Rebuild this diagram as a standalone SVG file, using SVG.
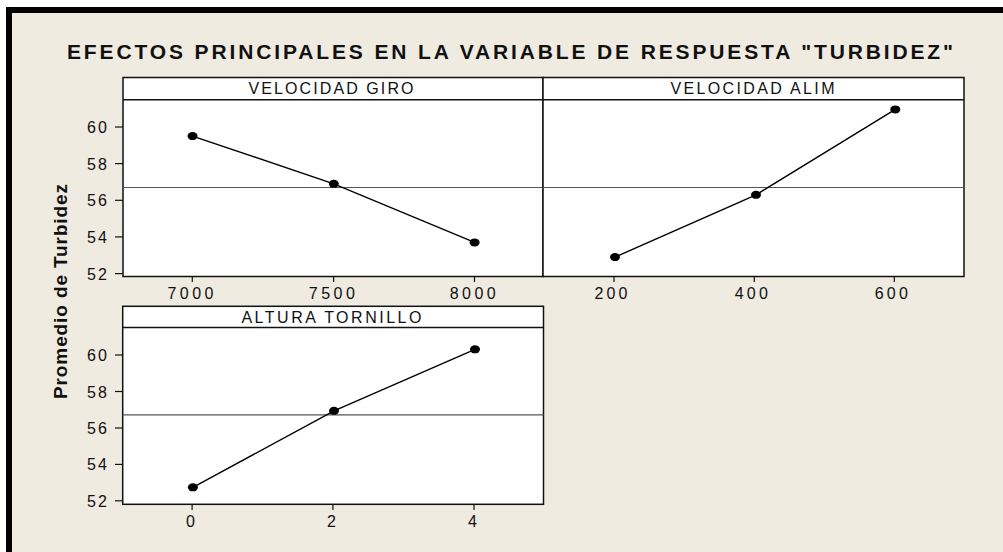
<svg xmlns="http://www.w3.org/2000/svg" width="1003" height="552" viewBox="0 0 1003 552">
  <style>
    .frame { fill: #ffffff; stroke: #111111; stroke-width: 1.5; }
    .sep { stroke: #111111; stroke-width: 1.5; fill: none; }
    .mean { stroke: #555555; stroke-width: 1.2; fill: none; }
    .data { stroke: #000000; stroke-width: 1.4; fill: none; }
    .tick { stroke: #111111; stroke-width: 1.2; }
    .pt { fill: #000000; }
    .title { font-family: "Liberation Sans", Arial, sans-serif; font-weight: bold; font-size: 21px; fill: #111111; }
    .ytitle { font-family: "Liberation Sans", Arial, sans-serif; font-weight: bold; font-size: 19px; fill: #111111; }
    .hdr { font-family: "Liberation Sans", Arial, sans-serif; font-size: 16px; fill: #111111; }
    .lbl { font-family: "Liberation Sans", Arial, sans-serif; font-size: 16px; fill: #111111; }
  </style>

  <g id="background">
    <rect x="0" y="0" width="1003" height="552" fill="#ffffff"/>
    <rect x="6" y="7" width="997" height="545" fill="#000000"/>
    <rect x="12" y="13" width="991" height="539" fill="#efebe1"/>
  </g>

  <g id="title">
    <text class="title" x="510" y="59" text-anchor="middle" textLength="886" lengthAdjust="spacing">EFECTOS PRINCIPALES EN LA VARIABLE DE RESPUESTA "TURBIDEZ"</text>
    <text class="ytitle" transform="translate(67 291.5) rotate(-90)" text-anchor="middle" textLength="215" lengthAdjust="spacing">Promedio de Turbidez</text>
  </g>

  <g id="panel-velocidad-giro">
    <rect class="frame" x="123" y="77.5" width="420" height="199"/>
    <line class="sep" x1="123" y1="99.7" x2="543" y2="99.7"/>
    <text class="hdr" x="331" y="94.3" text-anchor="middle" textLength="165" lengthAdjust="spacing">VELOCIDAD GIRO</text>
    <line class="mean" x1="123" y1="187.5" x2="543" y2="187.5"/>
    <g id="yaxis-top">
      <line class="tick" x1="115" y1="127" x2="123" y2="127"/>
      <line class="tick" x1="115" y1="163.6" x2="123" y2="163.6"/>
      <line class="tick" x1="115" y1="200.3" x2="123" y2="200.3"/>
      <line class="tick" x1="115" y1="236.9" x2="123" y2="236.9"/>
      <line class="tick" x1="115" y1="273.6" x2="123" y2="273.6"/>
      <text class="lbl" x="107" y="133" text-anchor="end" textLength="20" lengthAdjust="spacing">60</text>
      <text class="lbl" x="107" y="169.6" text-anchor="end" textLength="20" lengthAdjust="spacing">58</text>
      <text class="lbl" x="107" y="206.3" text-anchor="end" textLength="20" lengthAdjust="spacing">56</text>
      <text class="lbl" x="107" y="242.9" text-anchor="end" textLength="20" lengthAdjust="spacing">54</text>
      <text class="lbl" x="107" y="279.6" text-anchor="end" textLength="20" lengthAdjust="spacing">52</text>
    </g>
    <line class="tick" x1="192.3" y1="276.5" x2="192.3" y2="282"/>
    <line class="tick" x1="333.6" y1="276.5" x2="333.6" y2="282"/>
    <line class="tick" x1="474.5" y1="276.5" x2="474.5" y2="282"/>
    <text class="lbl" x="190.5" y="299" text-anchor="middle" textLength="46" lengthAdjust="spacing">7000</text>
    <text class="lbl" x="331.8" y="299" text-anchor="middle" textLength="46" lengthAdjust="spacing">7500</text>
    <text class="lbl" x="472.7" y="299" text-anchor="middle" textLength="46" lengthAdjust="spacing">8000</text>
  </g>

  <g id="panel-velocidad-alim">
    <rect class="frame" x="543" y="77.5" width="421" height="199"/>
    <line class="sep" x1="543" y1="99.7" x2="964" y2="99.7"/>
    <text class="hdr" x="752.5" y="94.3" text-anchor="middle" textLength="164" lengthAdjust="spacing">VELOCIDAD ALIM</text>
    <line class="mean" x1="543" y1="187.5" x2="964" y2="187.5"/>
    <line class="tick" x1="614" y1="276.5" x2="614" y2="282"/>
    <line class="tick" x1="754.3" y1="276.5" x2="754.3" y2="282"/>
    <line class="tick" x1="894.3" y1="276.5" x2="894.3" y2="282"/>
    <text class="lbl" x="611" y="299" text-anchor="middle" textLength="33" lengthAdjust="spacing">200</text>
    <text class="lbl" x="751.3" y="299" text-anchor="middle" textLength="33" lengthAdjust="spacing">400</text>
    <text class="lbl" x="891.3" y="299" text-anchor="middle" textLength="33" lengthAdjust="spacing">600</text>
  </g>

  <g id="panel-altura-tornillo">
    <rect class="frame" x="122.7" y="306.3" width="420.8" height="198"/>
    <line class="sep" x1="122.7" y1="327.6" x2="543.5" y2="327.6"/>
    <text class="hdr" x="331.4" y="323.3" text-anchor="middle" textLength="180" lengthAdjust="spacing">ALTURA TORNILLO</text>
    <line class="mean" x1="122.7" y1="414.8" x2="543.5" y2="414.8"/>
    <g id="yaxis-bottom">
      <line class="tick" x1="115" y1="355" x2="122.7" y2="355"/>
      <line class="tick" x1="115" y1="391.5" x2="122.7" y2="391.5"/>
      <line class="tick" x1="115" y1="428" x2="122.7" y2="428"/>
      <line class="tick" x1="115" y1="464.4" x2="122.7" y2="464.4"/>
      <line class="tick" x1="115" y1="500.8" x2="122.7" y2="500.8"/>
      <text class="lbl" x="107" y="361" text-anchor="end" textLength="20" lengthAdjust="spacing">60</text>
      <text class="lbl" x="107" y="397.5" text-anchor="end" textLength="20" lengthAdjust="spacing">58</text>
      <text class="lbl" x="107" y="434" text-anchor="end" textLength="20" lengthAdjust="spacing">56</text>
      <text class="lbl" x="107" y="470.4" text-anchor="end" textLength="20" lengthAdjust="spacing">54</text>
      <text class="lbl" x="107" y="506.8" text-anchor="end" textLength="20" lengthAdjust="spacing">52</text>
    </g>
    <line class="tick" x1="192.1" y1="504.3" x2="192.1" y2="510"/>
    <line class="tick" x1="332.9" y1="504.3" x2="332.9" y2="510"/>
    <line class="tick" x1="474" y1="504.3" x2="474" y2="510"/>
    <text class="lbl" x="190.5" y="526.8" text-anchor="middle">0</text>
    <text class="lbl" x="331.5" y="526.8" text-anchor="middle">2</text>
    <text class="lbl" x="472.5" y="526.8" text-anchor="middle">4</text>
  </g>

  <g id="connectors">
    <polyline class="data" points="192.5,136.1 333.8,183.8 474.6,242.4"/>
    <polyline class="data" points="615,257.1 756,194.8 895.3,109.4"/>
    <polyline class="data" points="192.9,487.3 334,410.8 475,349.3"/>
  </g>

  <g id="points">
    <ellipse class="pt" cx="192.5" cy="136.1" rx="5" ry="4"/>
    <ellipse class="pt" cx="333.8" cy="183.8" rx="5" ry="4"/>
    <ellipse class="pt" cx="474.6" cy="242.4" rx="5" ry="4"/>
    <ellipse class="pt" cx="615" cy="257.1" rx="5" ry="4"/>
    <ellipse class="pt" cx="756" cy="194.8" rx="5" ry="4"/>
    <ellipse class="pt" cx="895.3" cy="109.4" rx="5" ry="4"/>
    <ellipse class="pt" cx="192.9" cy="487.3" rx="5" ry="4"/>
    <ellipse class="pt" cx="334" cy="410.8" rx="5" ry="4"/>
    <ellipse class="pt" cx="475" cy="349.3" rx="5" ry="4"/>
  </g>
</svg>
